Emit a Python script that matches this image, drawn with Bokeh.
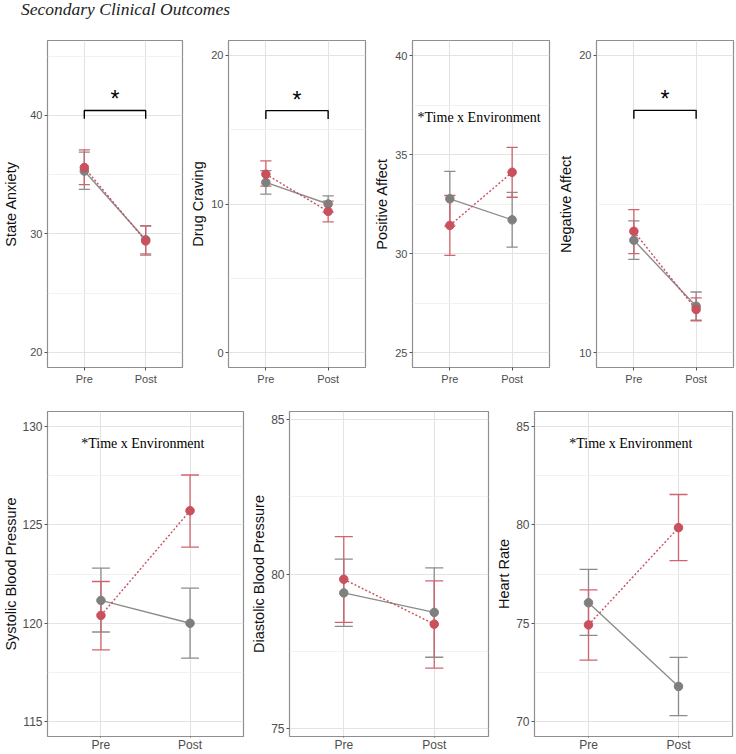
from bokeh.plotting import figure
from bokeh.layouts import column, row
from bokeh.models import Div, FixedTicker, Range1d
from bokeh.core.properties import value
from bokeh.embed import file_html
from bokeh.resources import INLINE

# Time points on the x axis
time_points = ["Pre", "Post"]

# Outcomes, one panel each
outcomes = ["State Anxiety", "Drug Craving", "Positive Affect", "Negative Affect",
            "Systolic Blood Pressure", "Diastolic Blood Pressure", "Heart Rate"]

# Grey environment: means and error-bar limits at Pre and Post
grey_pre_mean = [35.3, 11.45, 32.77, 13.78, 121.16, 79.39, 76.04]
grey_pre_low = [33.75, 10.67, 31.39, 13.14, 119.56, 78.31, 74.39]
grey_pre_high = [36.9, 12.25, 34.16, 14.43, 122.80, 80.48, 77.73]
grey_post_mean = [29.5, 10.0, 31.71, 11.56, 120.0, 78.76, 71.80]
grey_post_low = [28.3, 9.45, 30.33, 11.09, 118.23, 77.31, 70.32]
grey_post_high = [30.7, 10.55, 33.10, 12.04, 121.78, 80.20, 73.27]

# Red environment: means and error-bar limits at Pre and Post
red_pre_mean = [35.6, 12.0, 31.43, 14.08, 120.40, 79.83, 74.92]
red_pre_low = [34.15, 11.2, 29.92, 13.33, 118.65, 78.44, 73.13]
red_pre_high = [37.1, 12.9, 32.94, 14.81, 122.12, 81.21, 76.70]
red_post_mean = [29.4, 9.5, 34.11, 11.45, 125.71, 78.38, 79.85]
red_post_low = [28.2, 8.8, 32.85, 11.07, 123.86, 76.96, 78.18]
red_post_high = [30.65, 10.2, 35.37, 11.84, 127.52, 79.78, 81.53]

# Axis scales
y_start = [18.71, -1.0, 24.26, 9.5, 114.26, 74.75, 69.26]
y_end = [46.33, 21.0, 40.76, 20.5, 130.74, 85.25, 85.74]
major_ticks = [[20, 30, 40], [0, 10, 20], [25, 30, 35, 40], [10, 20],
               [115, 120, 125, 130], [75, 80, 85], [70, 75, 80, 85]]
minor_ticks = [[25, 35, 45], [5, 15], [27.5, 32.5, 37.5], [15],
               [117.5, 122.5, 127.5], [77.5, 82.5], [72.5, 77.5, 82.5]]

# Significance brackets (Pre vs Post) and interaction notes
bracket_panels = [0, 1, 3]
bracket_y = [40.42, 16.28, 18.15]
bracket_drop = [39.72, 15.72, 17.87]
star_y = [41.35, 17.03, 18.52]

note_panels = [2, 4, 6]
note_text = "*Time x Environment"
note_y = [36.88, 129.14, 84.14]

RED = "#C9505C"
RED_BAR = "#D0646E"
GREY = "#7F7F7F"
GREY_LINE = "#8C8C8C"
SANS = "Liberation Sans"
SERIF = "Liberation Serif"


def make_panel(i, width, height, borders, tick_font, label_standoff, cap_half,
               x_standoff, x_tick_out):
    left, right, top, bottom = borders
    p = figure(width=width, height=height,
               x_range=Range1d(0.4, 2.6), y_range=Range1d(y_start[i], y_end[i]),
               output_backend="svg", toolbar_location=None, tools="",
               min_border_left=left, min_border_right=right,
               min_border_top=top, min_border_bottom=bottom,
               background_fill_color="white", border_fill_color="white",
               outline_line_color="#8F8F8F", outline_line_width=1.2)

    xs = [k + 1 for k in range(len(time_points))]

    # axes
    p.xaxis.ticker = FixedTicker(ticks=xs)
    p.xaxis.major_label_overrides = {x: t for x, t in zip(xs, time_points)}
    p.yaxis.ticker = FixedTicker(ticks=major_ticks[i], minor_ticks=minor_ticks[i])
    p.yaxis.axis_label = outcomes[i]
    for ax in (p.xaxis[0], p.yaxis[0]):
        ax.axis_line_color = None
        ax.major_tick_in = 0
        ax.major_tick_out = 3
        ax.major_tick_line_color = "#555555"
        ax.minor_tick_in = 0
        ax.minor_tick_out = 0
        ax.major_label_text_font = SANS
        ax.major_label_text_font_size = tick_font
        ax.major_label_text_color = "#4D4D4D"
        ax.major_label_standoff = 2
    p.xaxis.major_label_standoff = x_standoff
    p.xaxis.major_tick_out = x_tick_out
    p.yaxis.axis_label_text_font = SANS
    p.yaxis.axis_label_text_font_size = "14.5px"
    p.yaxis.axis_label_text_font_style = "normal"
    p.yaxis.axis_label_text_color = "#111111"
    p.yaxis.axis_label_standoff = label_standoff

    # grid
    p.xgrid.ticker = FixedTicker(ticks=xs)
    p.xgrid.grid_line_color = "#E3E3E3"
    p.xgrid.grid_line_width = 1.1
    p.ygrid.ticker = FixedTicker(ticks=major_ticks[i], minor_ticks=minor_ticks[i])
    p.ygrid.grid_line_color = "#E3E3E3"
    p.ygrid.grid_line_width = 1.1
    p.ygrid.minor_grid_line_color = "#EFEFEF"
    p.ygrid.minor_grid_line_width = 0.8

    series = [
        (GREY, GREY_LINE, GREY_LINE, "solid",
         [grey_pre_mean[i], grey_post_mean[i]],
         [grey_pre_low[i], grey_post_low[i]],
         [grey_pre_high[i], grey_post_high[i]]),
        (RED, RED, RED_BAR, "2 2",
         [red_pre_mean[i], red_post_mean[i]],
         [red_pre_low[i], red_post_low[i]],
         [red_pre_high[i], red_post_high[i]]),
    ]
    for dot, line, bar, dash, mean, low, high in series:
        p.segment(x0=xs, y0=low, x1=xs, y1=high, line_color=bar, line_width=1.3)
        p.segment(x0=[x - cap_half for x in xs], y0=low,
                  x1=[x + cap_half for x in xs], y1=low, line_color=bar, line_width=1.3)
        p.segment(x0=[x - cap_half for x in xs], y0=high,
                  x1=[x + cap_half for x in xs], y1=high, line_color=bar, line_width=1.3)
    for dot, line, bar, dash, mean, low, high in series:
        p.line(xs, mean, line_color=line, line_width=1.4, line_dash=dash)
    for dot, line, bar, dash, mean, low, high in series:
        p.scatter(xs, mean, size=8.5, fill_color=dot, line_color=dot)

    if i in bracket_panels:
        b = bracket_panels.index(i)
        p.line([xs[0], xs[0], xs[1], xs[1]],
               [bracket_drop[b], bracket_y[b], bracket_y[b], bracket_drop[b]],
               line_color="black", line_width=1.4)
        p.text(x=[(xs[0] + xs[1]) / 2], y=[star_y[b]], text=["*"],
               text_font=value(SANS), text_font_size="23px",
               text_align="center", text_baseline="alphabetic", text_color="black")
    if i in note_panels:
        n = note_panels.index(i)
        p.text(x=[(xs[0] + xs[1]) / 2 - 0.03], y=[note_y[n]], text=[note_text],
               text_font=value(SERIF), text_font_size="14px",
               text_align="center", text_baseline="middle", text_color="black")
    return p


top_h, bottom_h = 370, 364
top_row = row(
    make_panel(0, 185, top_h, (45, 3, 20, 23), "11px", 8, 0.09, 2, 3),
    make_panel(1, 184, top_h, (43, 4, 20, 23), "11px", 2, 0.09, 2, 3),
    make_panel(2, 184, top_h, (43, 4, 20, 23), "11px", 2, 0.09, 2, 3),
    make_panel(3, 183, top_h, (43, 3, 20, 23), "11px", 2, 0.09, 2, 3),
)
bottom_row = row(
    make_panel(4, 245, bottom_h, (45, 2, 21, 16), "12px", 0, 0.1, 0, 1),
    make_panel(5, 245, bottom_h, (44, 2, 21, 16), "12px", 1, 0.1, 0, 1),
    make_panel(6, 246, bottom_h, (44, 4, 21, 16), "12px", 1, 0.1, 0, 1),
)

title = Div(text="Secondary Clinical Outcomes", width=736, height=20, margin=(0, 0, 0, 0),
            styles={"font-family": "'Liberation Serif'", "font-style": "italic",
                    "font-size": "17.5px", "line-height": "19px", "color": "#222222",
                    "padding-left": "21px", "overflow": "visible"})

layout = column(title, top_row, bottom_row)

with open("out.html", "w") as f:
    f.write(file_html(layout, INLINE))
